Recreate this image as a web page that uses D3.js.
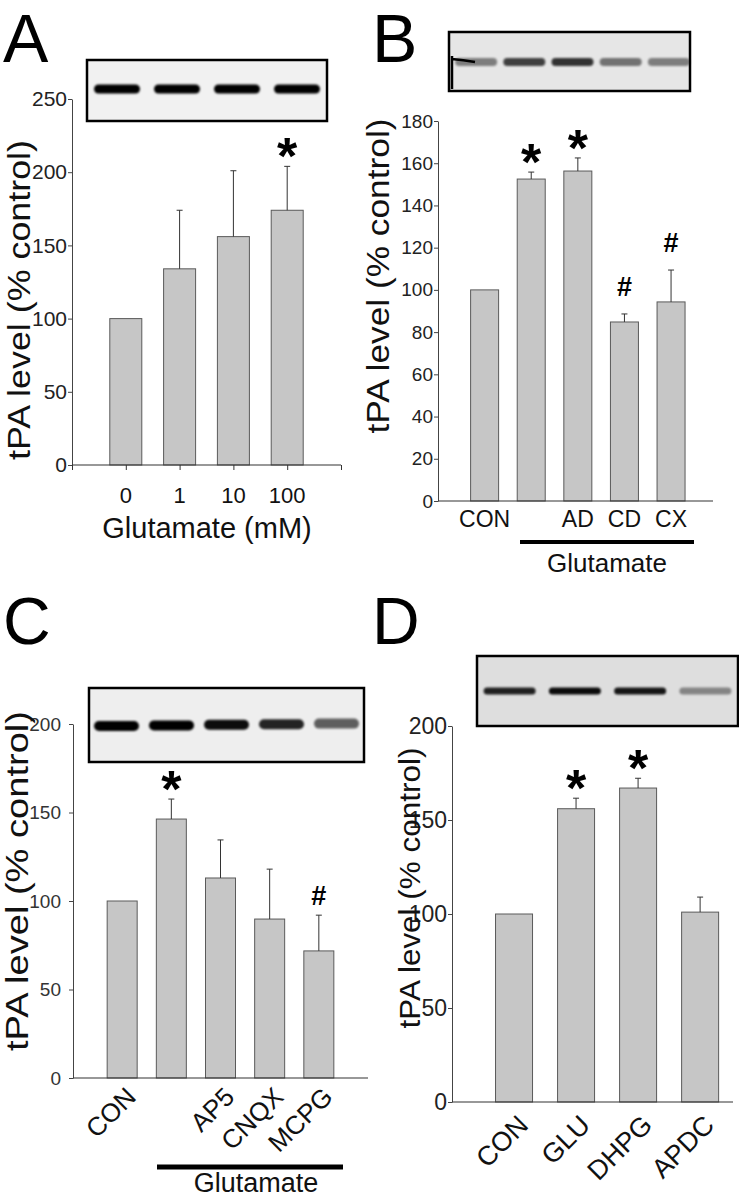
<!DOCTYPE html>
<html>
<head>
<meta charset="utf-8">
<script src="https://cdn.jsdelivr.net/npm/d3@7"></script>
<style>
  body { margin: 0; background: #fff; }
  svg text { font-family: "Liberation Sans", Arial, sans-serif; }
</style>
</head>
<body>
<svg id="fig" width="739" height="1199"></svg>
<script>
// ---- data ----
// A: glutamate dose response
var catsA = ["0", "1", "10", "100"];
var valsA = [100, 134, 156, 174];
var errA = [0, 40, 45, 30];
var sigA = ["", "", "", "*"];
var bandsA = [1, 1, 1, 1];
var ticksA = [0, 50, 100, 150, 200, 250];

// B
var catsB = ["CON", "", "AD", "CD", "CX"];
var valsB = [100, 152.5, 156.3, 84.8, 94.3];
var errB = [0, 3.3, 6.2, 3.8, 15.1];
var sigB = ["", "*", "*", "#", "#"];
var bandsB = [0.45, 0.72, 0.78, 0.5, 0.45];
var ticksB = [0, 20, 40, 60, 80, 100, 120, 140, 160, 180];

// C
var catsC = ["CON", "", "AP5", "CNQX", "MCPG"];
var valsC = [100, 146.3, 113, 89.8, 71.8];
var errC = [0, 11.3, 21.5, 28.2, 20.2];
var sigC = ["", "*", "", "", "#"];
var bandsC = [1, 1, 0.95, 0.85, 0.6];
var ticksC = [0, 50, 100, 150, 200];

// D
var catsD = ["CON", "GLU", "DHPG", "APDC"];
var valsD = [100, 156, 167, 101];
var errD = [0, 5.6, 5.2, 8];
var sigD = ["", "*", "*", ""];
var bandsD = [0.85, 0.95, 0.9, 0.4];
var ticksD = [0, 50, 100, 150, 200];

var yLabel = "tPA level (% control)";

var svg = d3.select("#fig");
svg.append("rect").attr("width", 739).attr("height", 1199).attr("fill", "#fff");

var defs = svg.append("defs");
defs.append("filter").attr("id", "blur").attr("x", "-20%").attr("y", "-100%").attr("width", "140%").attr("height", "300%")
  .append("feGaussianBlur").attr("stdDeviation", 1.3);

function drawPanel(p) {
  var g = svg.append("g");

  var x = d3.scaleLinear().domain([0, p.xmax]).range([p.x0, p.x1]);
  var y = d3.scaleLinear().domain([0, p.ymax]).range([p.y0, p.y1]);

  // panel letter
  g.append("text").attr("x", p.lx).attr("y", p.ly)
    .attr("font-size", p.lfs).attr("fill", "#000").text(p.letter);

  // western blot strip
  var b = p.blot;
  var bg = g.append("g");
  bg.append("rect").attr("x", b.x).attr("y", b.y).attr("width", b.w).attr("height", b.h)
    .attr("fill", b.bg).attr("stroke", "#000").attr("stroke-width", 2.5);
  var laneW = b.w / p.bands.length;
  bg.selectAll("rect.band").data(p.bands).join("rect").attr("class", "band")
    .attr("x", (d, i) => b.x + laneW * i + (laneW - b.bandW) / 2 + (b.shift || 0))
    .attr("y", (d, i) => b.bandY - b.bandH / 2 - (b.tilt || 0) * i)
    .attr("width", b.bandW).attr("height", b.bandH)
    .attr("rx", b.bandH / 2)
    .attr("fill", "#000").attr("opacity", d => d)
    .attr("filter", "url(#blur)");
  if (b.smear) {
    bg.append("path")
      .attr("d", "M" + (b.x + 3) + "," + (b.bandY - 6) + " L" + (b.x + 3) + "," + (b.y + b.h - 2) +
        " M" + (b.x + 3) + "," + (b.bandY - 3) + " Q" + (b.x + 14) + "," + (b.bandY - 2) + " " + (b.x + 26) + "," + (b.bandY))
      .attr("stroke", "#000").attr("stroke-width", 2.5).attr("fill", "none");
  }

  // bars
  g.selectAll("rect.bar").data(p.vals).join("rect").attr("class", "bar")
    .attr("x", (d, i) => x(i + 1) - p.barW / 2)
    .attr("y", d => y(d))
    .attr("width", p.barW)
    .attr("height", d => y(0) - y(d))
    .attr("fill", "#c6c6c6").attr("stroke", "#5a5a5a").attr("stroke-width", 1);

  // error bars (upper only)
  var eb = g.selectAll("g.err").data(p.vals.map((v, i) => ({ v: v, e: p.err[i], i: i })).filter(d => d.e > 0))
    .join("g").attr("class", "err").attr("stroke", "#333").attr("stroke-width", 1);
  eb.append("line").attr("x1", d => x(d.i + 1)).attr("x2", d => x(d.i + 1))
    .attr("y1", d => y(d.v)).attr("y2", d => y(d.v + d.e));
  eb.append("line").attr("x1", d => x(d.i + 1) - 3).attr("x2", d => x(d.i + 1) + 3)
    .attr("y1", d => y(d.v + d.e)).attr("y2", d => y(d.v + d.e));

  // significance marks
  g.selectAll("text.sig").data(p.sig.map((s, i) => ({ s: s, i: i })).filter(d => d.s))
    .join("text").attr("class", "sig")
    .attr("x", d => x(d.i + 1))
    .attr("y", d => y(p.vals[d.i] + p.err[d.i]) - (d.s === "*" ? p.starGap : p.hashGap))
    .attr("text-anchor", "middle").attr("font-weight", "bold").attr("fill", "#000")
    .attr("font-size", d => d.s === "*" ? p.starFs : p.hashFs)
    .text(d => d.s);

  // y axis
  var ya = g.append("g").attr("transform", "translate(" + p.x0 + ",0)")
    .call(d3.axisLeft(y).tickValues(p.ticks).tickSize(4).tickSizeOuter(0).tickPadding(p.tickPad));
  ya.attr("font-family", null).attr("font-size", p.tickFs).attr("color", p.tickColor || "#222");
  ya.select(".domain").attr("stroke", "#444");
  ya.selectAll(".tick line").attr("stroke", "#444");

  // x axis line
  g.append("line").attr("x1", x(0)).attr("x2", x(p.xmax)).attr("y1", y(0)).attr("y2", y(0))
    .attr("stroke", "#333").attr("stroke-width", 1.2);
  if (p.xTicks) {
    var xa = g.append("g").attr("transform", "translate(0," + y(0) + ")")
      .call(d3.axisBottom(x).tickValues(d3.range(0, p.xmax + 1)).tickSize(5).tickSizeOuter(0).tickFormat(""));
    xa.select(".domain").remove();
    xa.selectAll(".tick line").attr("stroke", "#333");
  }

  // category labels
  var cl = g.selectAll("text.cat").data(p.cats.map((c, i) => ({ c: c, i: i })).filter(d => d.c))
    .join("text").attr("class", "cat").attr("fill", "#111").attr("font-size", p.catFs)
    .text(d => d.c);
  if (p.rot) {
    cl.attr("text-anchor", "end").attr("dy", "0.35em")
      .attr("transform", d => "translate(" + (x(d.i + 1) + p.rotDx) + "," + (y(0) + p.rotDy) + ") rotate(-45)");
  } else {
    cl.attr("text-anchor", "middle").attr("x", d => x(d.i + 1)).attr("y", p.catY);
  }

  // treatment bar + caption
  if (p.glu) {
    g.append("line").attr("x1", p.glu.x1).attr("x2", p.glu.x2).attr("y1", p.glu.y).attr("y2", p.glu.y)
      .attr("stroke", "#000").attr("stroke-width", p.glu.w);
  }
  if (p.title) {
    g.append("text").attr("x", p.titleX).attr("y", p.titleY).attr("text-anchor", "middle")
      .attr("font-size", p.titleFs).attr("fill", "#111").text(p.title);
  }

  // y label
  g.append("text").attr("transform", "translate(" + p.ylabX + "," + p.ylabY + ") rotate(-90)")
    .attr("text-anchor", "middle").attr("font-size", p.ylabFs).attr("fill", "#111")
    .attr("textLength", p.ylabLen).attr("lengthAdjust", "spacingAndGlyphs")
    .text(yLabel);
}

drawPanel({
  letter: "A", lx: 3, ly: 62, lfs: 68,
  cats: catsA, vals: valsA, err: errA, sig: sigA, bands: bandsA, ticks: ticksA,
  x0: 72, x1: 341, xmax: 5, y0: 465, y1: 99, ymax: 250, barW: 32,
  tickFs: 21, tickPad: 1, xTicks: true, catFs: 22, catY: 503, rot: false,
  starFs: 52, starGap: -8, hashFs: 27, hashGap: 10,
  title: "Glutamate (mM)", titleX: 207, titleY: 538, titleFs: 29,
  ylabX: 30, ylabY: 300, ylabFs: 31, ylabLen: 320,
  blot: { x: 87, y: 60, w: 240, h: 61, bandY: 89, bandH: 9, bandW: 46, bg: "#f1f1f1" }
});

drawPanel({
  letter: "B", lx: 372, ly: 62, lfs: 68,
  cats: catsB, vals: valsB, err: errB, sig: sigB, bands: bandsB, ticks: ticksB,
  x0: 438, x1: 713, xmax: 5.9, y0: 501, y1: 121, ymax: 180, barW: 28,
  tickFs: 19, tickPad: 1, xTicks: false, catFs: 23, catY: 527, rot: false,
  starFs: 52, starGap: -8, hashFs: 27, hashGap: 18,
  glu: { x1: 520, x2: 694, y: 542, w: 4 },
  title: "Glutamate", titleX: 607, titleY: 572, titleFs: 26,
  ylabX: 389, ylabY: 276, ylabFs: 31, ylabLen: 315,
  blot: { x: 449, y: 32, w: 241, h: 59, bandY: 62, bandH: 8, bandW: 42, bg: "#e6e6e6", shift: 3, smear: true }
});

drawPanel({
  letter: "C", lx: 3, ly: 644, lfs: 66,
  cats: catsC, vals: valsC, err: errC, sig: sigC, bands: bandsC, ticks: ticksC,
  x0: 73, x1: 368, xmax: 6, y0: 1078, y1: 724, ymax: 200, barW: 30,
  tickFs: 19, tickPad: 8, tickColor: "#333", xTicks: false, catFs: 26, rot: true, rotDx: 9, rotDy: 14,
  starFs: 52, starGap: -8, hashFs: 27, hashGap: 10,
  glu: { x1: 157, x2: 343, y: 1167, w: 5 },
  title: "Glutamate", titleX: 256, titleY: 1192, titleFs: 27,
  ylabX: 28, ylabY: 881, ylabFs: 32, ylabLen: 340,
  blot: { x: 89, y: 688, w: 275, h: 74, bandY: 726, bandH: 10, bandW: 45, bg: "#eeeeee", tilt: 0.6 }
});

drawPanel({
  letter: "D", lx: 372, ly: 644, lfs: 66,
  cats: catsD, vals: valsD, err: errD, sig: sigD, bands: bandsD, ticks: ticksD,
  x0: 452, x1: 733, xmax: 4.53, y0: 1102, y1: 726, ymax: 200, barW: 37,
  tickFs: 23, tickPad: 1, xTicks: false, catFs: 27, rot: true, rotDx: 9, rotDy: 18,
  starFs: 52, starGap: -8, hashFs: 27, hashGap: 10,
  title: "",
  ylabX: 420, ylabY: 888, ylabFs: 30, ylabLen: 281,
  blot: { x: 477, y: 656, w: 261, h: 70, bandY: 691, bandH: 7, bandW: 52, bg: "#dedede" }
});
</script>
</body>
</html>
